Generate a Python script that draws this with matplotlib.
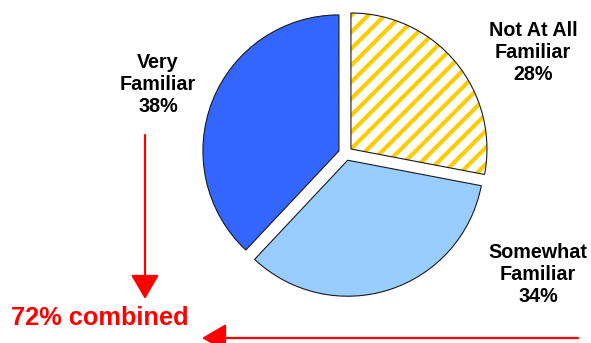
import matplotlib
matplotlib.use("Agg")
import matplotlib.pyplot as plt
from matplotlib.patches import Wedge, FancyArrowPatch

plt.rcParams["font.family"] = ["Liberation Sans", "DejaVu Sans"]
plt.rcParams["hatch.linewidth"] = 3.0

# familiarity split, clockwise from 12 o'clock
labels = ["Not At All\nFamiliar", "Somewhat\nFamiliar", "Very\nFamiliar"]
shares = [28, 34, 38]
colors = ["white", "#99CCFF", "#3366FF"]
combined_label = "72% combined"

W, H = 591, 343
fig = plt.figure(figsize=(W / 100, H / 100), dpi=100)

# pie axes: centre at (345.5, 153.5) px from top, radius 136 px
cx, cy, r = 345.5, 153.5, 136
half = 1.2 * r
ax = fig.add_axes([(cx - half) / W, (H - cy - half) / H, 2 * half / W, 2 * half / H])
wedges, _ = ax.pie(
    shares, colors=colors, startangle=90, counterclock=False,
    explode=[0.052] * 3,
    wedgeprops=dict(edgecolor="#1a1a1a", linewidth=0.8),
)
ax.set_xlim(-1.2, 1.2)
ax.set_ylim(-1.2, 1.2)
ax.set_aspect("equal")
ax.axis("off")

# yellow diagonal stripes on the first slice, with a dark outline on top
striped = wedges[0]
striped.set_edgecolor("#FFCC00")
striped.set_linewidth(0)
striped.set_hatch("//")
ax.add_patch(Wedge(striped.center, striped.r, striped.theta1, striped.theta2,
                   fill=False, edgecolor="#1a1a1a", linewidth=0.8))

# overlay in pixel coordinates (y down) for labels and arrows
ov = fig.add_axes([0, 0, 1, 1])
ov.set_xlim(0, W)
ov.set_ylim(H, 0)
ov.axis("off")

label_pos = [(533, 53), (538, 275), (158, 84)]
for (x, y), lab, val in zip(label_pos, labels, shares):
    ov.text(x, y, f"{lab}\n{val}%", ha="center", va="center",
            fontsize=14.2, fontweight="bold", color="black", linespacing=1.2)

ov.text(11, 318, combined_label, ha="left", va="center",
        fontsize=18.3, fontweight="bold", color="#FF0000")

for start, end in [((145, 135), (145, 299)), ((578, 338), (202, 338))]:
    ov.add_patch(FancyArrowPatch(start, end, arrowstyle="-|>,head_length=6,head_width=3.5",
                                 color="#FF0000", linewidth=1.6, mutation_scale=2.5,
                                 shrinkA=0, shrinkB=0))

fig.savefig("out.png", dpi=100)
